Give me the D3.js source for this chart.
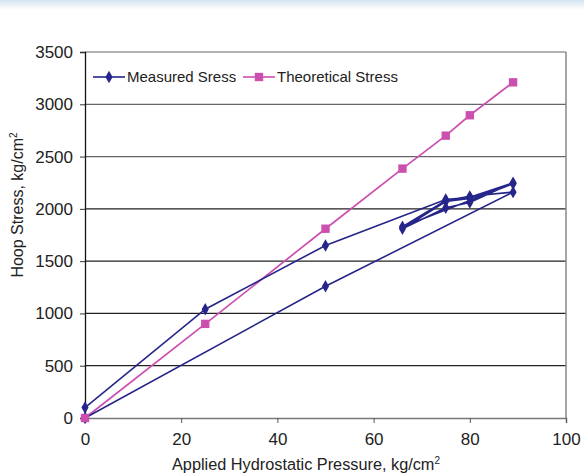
<!DOCTYPE html>
<html>
<head>
<meta charset="utf-8">
<script src="https://cdn.jsdelivr.net/npm/d3@7/dist/d3.min.js"></script>
<style>
  html, body { margin: 0; padding: 0; background: #fff; }
  svg { display: block; }
  text { font-family: "Liberation Sans", Arial, sans-serif; fill: #222; }
</style>
</head>
<body>
<script>
// ---- data ----
const measuredPressure = [0, 25, 50, 75, 80, 89, 80, 75, 66, 75, 80, 89, 66, 75, 80, 89, 50, 0];
const measuredStress   = [100, 1040, 1650, 2090, 2110, 2250, 2060, 2010, 1810, 2070, 2100, 2240, 1830, 2080, 2120, 2160, 1260, 0];
const theoryPressure = [0, 25, 50, 66, 75, 80, 89];
const theoryStress   = [0, 900, 1810, 2385, 2700, 2895, 3210];
const xTicks = [0, 20, 40, 60, 80, 100];
const yTicks = [0, 500, 1000, 1500, 2000, 2500, 3000, 3500];
const seriesNames = ["Measured Sress", "Theoretical Stress"];

const W = 584, H = 475;
const M = { left: 85, right: 566, top: 52, bottom: 418 };
const measuredColor = "#25258a";
const theoryColor = "#cc4fb0";
const FONT = '"Liberation Sans", Arial, sans-serif';

const svg = d3.select("body").append("svg").attr("width", W).attr("height", H);

// scan artifact band at top
const grad = svg.append("defs").append("linearGradient").attr("id", "topband").attr("x1", 0).attr("y1", 0).attr("x2", 0).attr("y2", 1);
grad.append("stop").attr("offset", "0%").attr("stop-color", "#d4e4f1");
grad.append("stop").attr("offset", "100%").attr("stop-color", "#ffffff");
svg.append("rect").attr("x", 0).attr("y", 0).attr("width", W).attr("height", 10).attr("fill", "url(#topband)");

const x = d3.scaleLinear().domain([0, 100]).range([M.left, M.right]);
const y = d3.scaleLinear().domain([0, 3500]).range([M.bottom, M.top]);

// gridlines
svg.append("g").selectAll("line").data(yTicks.filter(d => d > 0)).join("line")
  .attr("x1", M.left).attr("x2", M.right)
  .attr("y1", d => y(d)).attr("y2", d => y(d))
  .attr("stroke", d => d >= 2500 ? "#666" : "#222").attr("stroke-width", 1.2);

// right border
svg.append("line").attr("x1", M.right).attr("x2", M.right).attr("y1", M.top).attr("y2", M.bottom)
  .attr("stroke", "#888").attr("stroke-width", 1.5);

// y axis
const yAxis = svg.append("g").attr("transform", `translate(${M.left},0)`)
  .call(d3.axisLeft(y).tickValues(yTicks).tickSize(5).tickPadding(7).tickFormat(d3.format("d")));
yAxis.select(".domain").attr("stroke", "#111").attr("stroke-width", 1.3);
yAxis.selectAll(".tick line").attr("stroke", "#333");
yAxis.selectAll("text").style("font-size", "17px").attr("fill", "#222").style("font-family", FONT);

// x axis
const xAxis = svg.append("g").attr("transform", `translate(0,${M.bottom})`)
  .call(d3.axisBottom(x).tickValues(xTicks).tickSize(5).tickPadding(10).tickFormat(d3.format("d")));
xAxis.select(".domain").attr("stroke", "#777").attr("stroke-width", 1.5);
xAxis.selectAll(".tick line").attr("stroke", "#555");
xAxis.selectAll("text").style("font-size", "17px").attr("fill", "#222").style("font-family", FONT);

// axis titles
const xt = svg.append("text").attr("x", 306).attr("y", 470).attr("text-anchor", "middle").style("font-size", "16.3px");
xt.append("tspan").text("Applied  Hydrostatic Pressure, kg/cm");
xt.append("tspan").attr("dy", -6).style("font-size", "10px").text("2");

const yt = svg.append("text").attr("transform", `translate(23,205) rotate(-90)`)
  .attr("text-anchor", "middle").style("font-size", "16px");
yt.append("tspan").text("Hoop Stress, kg/cm");
yt.append("tspan").attr("dy", -6).style("font-size", "10px").text("2");

// lines
const measured = measuredPressure.map((p, i) => [p, measuredStress[i]]);
const theory = theoryPressure.map((p, i) => [p, theoryStress[i]]);
const line = d3.line().x(d => x(d[0])).y(d => y(d[1]));

svg.append("path").datum(theory).attr("d", line).attr("fill", "none")
  .attr("stroke", theoryColor).attr("stroke-width", 1.7);
svg.append("path").datum(measured).attr("d", line).attr("fill", "none")
  .attr("stroke", measuredColor).attr("stroke-width", 1.6);

const diamond = d3.symbol().type(d3.symbolDiamond).size(44);
const square = d3.symbol().type(d3.symbolSquare).size(70);

svg.append("g").selectAll("path").data(measured).join("path")
  .attr("d", diamond).attr("transform", d => `translate(${x(d[0])},${y(d[1])})`).attr("fill", measuredColor);
svg.append("g").selectAll("path").data(theory).join("path")
  .attr("d", square).attr("transform", d => `translate(${x(d[0])},${y(d[1])})`).attr("fill", theoryColor);

// legend
const lg = svg.append("g");
const ly = 77;
lg.append("line").attr("x1", 93).attr("x2", 125).attr("y1", ly).attr("y2", ly).attr("stroke", measuredColor).attr("stroke-width", 1.6);
lg.append("path").attr("d", diamond).attr("transform", `translate(109,${ly})`).attr("fill", measuredColor);
lg.append("text").attr("x", 127).attr("y", ly + 5).style("font-size", "15px").text(seriesNames[0]);
lg.append("line").attr("x1", 243).attr("x2", 275).attr("y1", ly).attr("y2", ly).attr("stroke", theoryColor).attr("stroke-width", 1.6);
lg.append("path").attr("d", square).attr("transform", `translate(259,${ly})`).attr("fill", theoryColor);
lg.append("text").attr("x", 277).attr("y", ly + 5).style("font-size", "15px").text(seriesNames[1]);
</script>
</body>
</html>
